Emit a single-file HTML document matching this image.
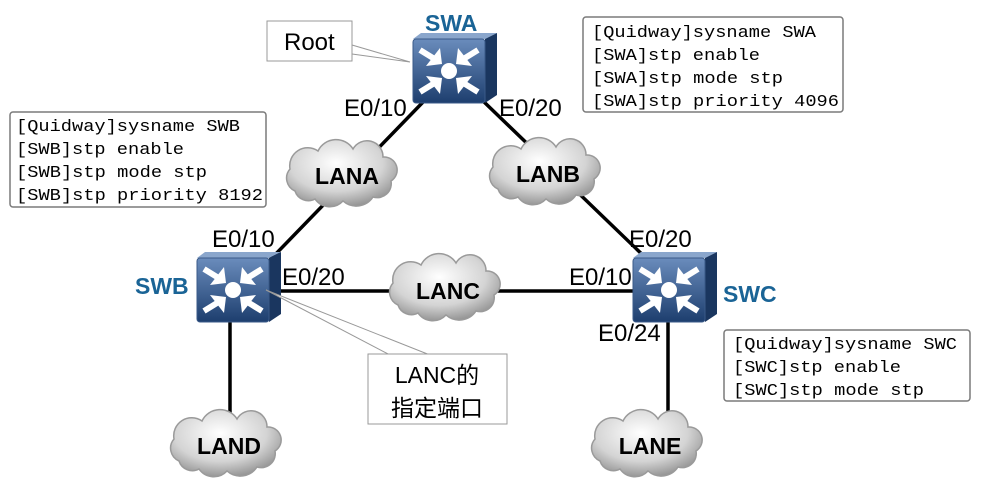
<!DOCTYPE html>
<html><head><meta charset="utf-8"><style>html,body{margin:0;padding:0;background:#fff}svg{display:block}</style></head>
<body>
<svg width="982" height="487" viewBox="0 0 982 487" xmlns="http://www.w3.org/2000/svg" font-family="Liberation Sans, Arial, sans-serif">
<defs>
<radialGradient id="cg" cx="0.45" cy="0.35" r="0.7">
<stop offset="0" stop-color="#ffffff"/><stop offset="0.6" stop-color="#d4d4d4"/><stop offset="1" stop-color="#8a8a8a"/>
</radialGradient>
<linearGradient id="fg" x1="0" y1="0" x2="0" y2="1">
<stop offset="0" stop-color="#6a8cbc"/><stop offset="1" stop-color="#1d3e6e"/>
</linearGradient>
<path id="cloud" d="M-50,15 a14,14 0 0,1 -5,-22 a18,18 0 0,1 28,-18 a20,20 0 0,1 35,-2 a16,16 0 0,1 30,8 a13,13 0 0,1 8,24 a14,14 0 0,1 -18,16 a20,20 0 0,1 -30,4 a18,18 0 0,1 -28,-2 a14,14 0 0,1 -20,-8 z" fill="url(#cg)" stroke="#9a9a9a" stroke-width="1.5"/>
<g id="sw">
<path d="M0,6 L8,0 L84,0 L72,6 Z" fill="#8aa6cc"/>
<path d="M72,6 L84,0 L84,62 L72,70 Z" fill="#1a365f"/>
<rect x="0" y="6" width="72" height="64" rx="3" fill="url(#fg)" stroke="#3a5a88"/>
<g stroke="#fff" stroke-width="6" fill="#fff" stroke-linecap="butt">
<circle cx="36" cy="38" r="8" stroke="none"/>
<line x1="7" y1="17" x2="20" y2="25"/><path d="M27,15 L29,31 L13,33 Z" stroke="none"/>
<line x1="65" y1="17" x2="52" y2="25"/><path d="M45,15 L43,31 L59,33 Z" stroke="none"/>
<line x1="7" y1="59" x2="20" y2="51"/><path d="M27,61 L29,45 L13,43 Z" stroke="none"/>
<line x1="65" y1="59" x2="52" y2="51"/><path d="M45,61 L43,45 L59,43 Z" stroke="none"/>
</g>
</g>
</defs>

<g stroke="#000" stroke-width="3.5">
<line x1="425" y1="100" x2="268" y2="262"/>
<line x1="482" y1="100" x2="650" y2="262"/>
<line x1="272" y1="291" x2="636" y2="291"/>
<line x1="230" y1="320" x2="230" y2="440"/>
<line x1="668" y1="320" x2="668" y2="440"/>
</g>

<use href="#cloud" x="345" y="176"/>
<use href="#cloud" x="548" y="174"/>
<use href="#cloud" x="448" y="290"/>
<use href="#cloud" x="229" y="446"/>
<use href="#cloud" x="650" y="446"/>
<g font-weight="bold" font-size="23" text-anchor="middle">
<text x="347" y="184">LANA</text>
<text x="548" y="182">LANB</text>
<text x="448" y="299">LANC</text>
<text x="229" y="454">LAND</text>
<text x="650" y="454">LANE</text>
</g>

<use href="#sw" x="413" y="33"/>
<use href="#sw" x="197" y="252"/>
<use href="#sw" x="633" y="252"/>

<g font-weight="bold" font-size="23" fill="#1a6496">
<text x="425" y="31">SWA</text>
<text x="135" y="294">SWB</text>
<text x="723" y="302">SWC</text>
</g>

<g font-size="24">
<text x="344" y="116">E0/10</text>
<text x="499" y="116">E0/20</text>
<text x="212" y="247">E0/10</text>
<text x="282" y="285">E0/20</text>
<text x="569" y="285">E0/10</text>
<text x="629" y="247">E0/20</text>
<text x="598" y="341">E0/24</text>
</g>

<path d="M352,45 L410,62 L352,54" fill="#fff" stroke="#999" stroke-width="1"/>
<rect x="267" y="21" width="85" height="40" fill="#fff" stroke="#999"/>
<text x="284" y="50" font-size="24">Root</text>

<path d="M266,290 L390,355 L430,355 Z" fill="#fff" stroke="#999" stroke-width="1"/>
<rect x="368" y="354" width="139" height="70" fill="#fff" stroke="#999"/>
<g font-family="Liberation Sans, Noto Sans CJK SC, sans-serif" font-size="23" text-anchor="middle">
<text x="437" y="383">LANC的</text>
<text x="437" y="416">指定端口</text>
</g>

<g fill="#fff" stroke="#7a7a7a" stroke-width="1.5">
<rect x="583" y="17" width="260" height="95" rx="3"/>
<rect x="10" y="112" width="256" height="95" rx="3"/>
<rect x="724" y="330" width="246" height="71" rx="3"/>
</g>
<g font-family="Liberation Mono, monospace" font-size="17">
<text x="592" y="37" textLength="224" lengthAdjust="spacingAndGlyphs">[Quidway]sysname SWA</text>
<text x="592" y="60" textLength="168" lengthAdjust="spacingAndGlyphs">[SWA]stp enable</text>
<text x="592" y="83" textLength="191" lengthAdjust="spacingAndGlyphs">[SWA]stp mode stp</text>
<text x="592" y="106" textLength="247" lengthAdjust="spacingAndGlyphs">[SWA]stp priority 4096</text>
<text x="16" y="131" textLength="224" lengthAdjust="spacingAndGlyphs">[Quidway]sysname SWB</text>
<text x="16" y="154" textLength="168" lengthAdjust="spacingAndGlyphs">[SWB]stp enable</text>
<text x="16" y="177" textLength="191" lengthAdjust="spacingAndGlyphs">[SWB]stp mode stp</text>
<text x="16" y="200" textLength="247" lengthAdjust="spacingAndGlyphs">[SWB]stp priority 8192</text>
<text x="733" y="349" textLength="224" lengthAdjust="spacingAndGlyphs">[Quidway]sysname SWC</text>
<text x="733" y="372" textLength="168" lengthAdjust="spacingAndGlyphs">[SWC]stp enable</text>
<text x="733" y="395" textLength="191" lengthAdjust="spacingAndGlyphs">[SWC]stp mode stp</text>
</g>
</svg>
</body></html>
